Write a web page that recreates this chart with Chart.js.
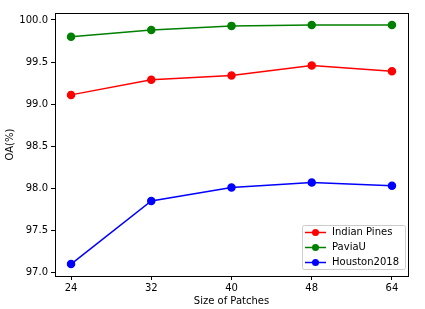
<!DOCTYPE html>
<html>
<head>
<meta charset="utf-8">
<script src="https://cdn.jsdelivr.net/npm/chart.js@4/dist/chart.umd.min.js"></script>
<style>
  body { margin: 0; background: #fff; }
  #wrap { width: 425px; height: 309px; }
</style>
</head>
<body>
<div id="wrap"><canvas id="chart" width="425" height="309"></canvas></div>
<script>
// data
const patchSizes = ['24', '32', '40', '48', '64'];
const indianPines = [99.11, 99.29, 99.34, 99.46, 99.39];
const paviaU = [99.80, 99.88, 99.93, 99.94, 99.94];
const houston2018 = [97.10, 97.85, 98.01, 98.07, 98.03];
const yTicks = [97.0, 97.5, 98.0, 98.5, 99.0, 99.5, 100.0];

const FONT = 'DejaVu Sans';

function toPoints(values) {
  return values.map((v, i) => ({ x: i, y: v }));
}

function makeSet(label, values, color) {
  return {
    label: label,
    data: toPoints(values),
    borderColor: color,
    backgroundColor: color,
    pointBackgroundColor: color,
    pointBorderColor: color,
    borderWidth: 1.5,
    pointRadius: 3.5,
    pointHoverRadius: 3.5,
    tension: 0
  };
}

// frame around the plot area (matplotlib spines)
const framePlugin = {
  id: 'frame',
  afterDatasetsDraw(chart) {
    const { ctx, chartArea: a } = chart;
    ctx.save();
    ctx.strokeStyle = '#000';
    ctx.lineWidth = 1;
    ctx.strokeRect(Math.round(a.left) + 0.5, Math.round(a.top) + 0.5,
      Math.round(a.right - a.left), Math.round(a.bottom - a.top));
    ctx.restore();
  }
};

// legend box inside the lower right corner
const legendPlugin = {
  id: 'innerLegend',
  afterDraw(chart) {
    const { ctx, chartArea: a } = chart;
    const sets = chart.data.datasets;
    const boxW = 103, rowH = 15, boxH = 44;
    const x0 = a.right - 3 - boxW;
    const y0 = a.bottom - 7 - boxH;
    ctx.save();
    ctx.fillStyle = 'rgba(255,255,255,0.85)';
    ctx.strokeStyle = '#cccccc';
    ctx.lineWidth = 1;
    ctx.beginPath();
    ctx.roundRect(x0 + 0.5, y0 + 0.5, boxW, boxH, 2);
    ctx.fill();
    ctx.stroke();
    ctx.font = '10px "' + FONT + '"';
    ctx.textBaseline = 'middle';
    sets.forEach((ds, i) => {
      const y = y0 + 7.5 + i * rowH;
      ctx.strokeStyle = ds.borderColor;
      ctx.lineWidth = 1.5;
      ctx.beginPath();
      ctx.moveTo(x0 + 3, y);
      ctx.lineTo(x0 + 24, y);
      ctx.stroke();
      ctx.fillStyle = ds.borderColor;
      ctx.beginPath();
      ctx.arc(x0 + 13.5, y, 3.5, 0, Math.PI * 2);
      ctx.fill();
      ctx.fillStyle = '#000';
      ctx.fillText(ds.label, x0 + 30, y);
    });
    ctx.restore();
  }
};

new Chart(document.getElementById('chart'), {
  type: 'line',
  data: {
    datasets: [
      makeSet('Indian Pines', indianPines, '#ff0000'),
      makeSet('PaviaU', paviaU, '#008000'),
      makeSet('Houston2018', houston2018, '#0000ff')
    ]
  },
  options: {
    responsive: false,
    animation: false,
    layout: { padding: { top: 13, right: 17, left: 0, bottom: 0 } },
    plugins: {
      legend: { display: false },
      tooltip: { enabled: false }
    },
    scales: {
      x: {
        type: 'linear',
        min: -0.2,
        max: 4.2,
        afterBuildTicks: s => { s.ticks = patchSizes.map((p, i) => ({ value: i })); },
        afterFit: s => { s.height = 33; },
        grid: { drawOnChartArea: false, tickLength: 4, tickColor: '#000' },
        border: { display: false },
        ticks: {
          color: '#000',
          padding: 2,
          maxRotation: 0,
          font: { family: FONT, size: 10 },
          callback: v => patchSizes[v]
        },
        title: {
          display: true,
          text: 'Size of Patches',
          color: '#000',
          font: { family: FONT, size: 10 },
          padding: { top: 0, bottom: 2 }
        }
      },
      y: {
        min: 96.958,
        max: 100.083,
        afterBuildTicks: s => { s.ticks = yTicks.map(v => ({ value: v })); },
        afterFit: s => { s.width = 55; },
        grid: { drawOnChartArea: false, tickLength: 4, tickColor: '#000' },
        border: { display: false },
        ticks: {
          color: '#000',
          padding: 3,
          font: { family: FONT, size: 10 },
          callback: v => Number(v).toFixed(1)
        },
        title: {
          display: true,
          text: 'OA(%)',
          color: '#000',
          font: { family: FONT, size: 10 },
          padding: { top: 4, bottom: 0 }
        }
      }
    }
  },
  plugins: [framePlugin, legendPlugin]
});
</script>
</body>
</html>
